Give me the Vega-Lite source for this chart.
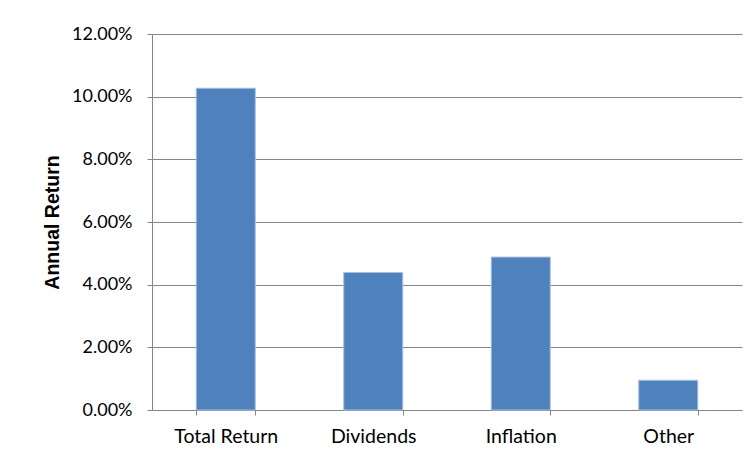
{
  "$schema": "https://vega.github.io/schema/vega-lite/v6.json",
  "width": 590,
  "height": 376,
  "autosize": "none",
  "padding": {"left": 152, "top": 34, "right": 12, "bottom": 47},
  "background": "white",
  "config": {
    "view": {"stroke": null},
    "font": "Lato"
  },
  "data": {
    "values": [
      {"component": "Total Return", "annual_return": 0.1027},
      {"component": "Dividends", "annual_return": 0.0439},
      {"component": "Inflation", "annual_return": 0.0488},
      {"component": "Other", "annual_return": 0.0095}
    ]
  },
  "mark": {"type": "bar", "fill": "#4F81BD", "stroke": "#A7C0DE", "strokeWidth": 1},
  "encoding": {
    "x": {
      "field": "component",
      "type": "nominal",
      "sort": null,
      "scale": {"paddingInner": 0.6, "paddingOuter": 0.3},
      "axis": {
        "title": null,
        "labelAngle": 0,
        "labelFont": "Lato",
        "labelFontSize": 19.5,
        "labelColor": "#000000",
        "labelPadding": 12,
        "domainColor": "#868686",
        "tickColor": "#868686",
        "tickSize": 5,
        "tickBand": "extent"
      }
    },
    "y": {
      "field": "annual_return",
      "type": "quantitative",
      "scale": {"domain": [0, 0.12], "nice": false},
      "axis": {
        "title": "Annual Return",
        "titleFont": "Liberation Sans",
        "titleFontSize": 19.5,
        "titleFontWeight": "bold",
        "titleColor": "#000000",
        "titlePadding": 9,
        "format": ".2%",
        "values": [0, 0.02, 0.04, 0.06, 0.08, 0.1, 0.12],
        "labelFont": "Lato",
        "labelFontSize": 18,
        "labelColor": "#000000",
        "labelPadding": 15,
        "grid": true,
        "gridColor": "#868686",
        "domainColor": "#868686",
        "tickColor": "#868686",
        "tickSize": 5
      }
    }
  }
}
